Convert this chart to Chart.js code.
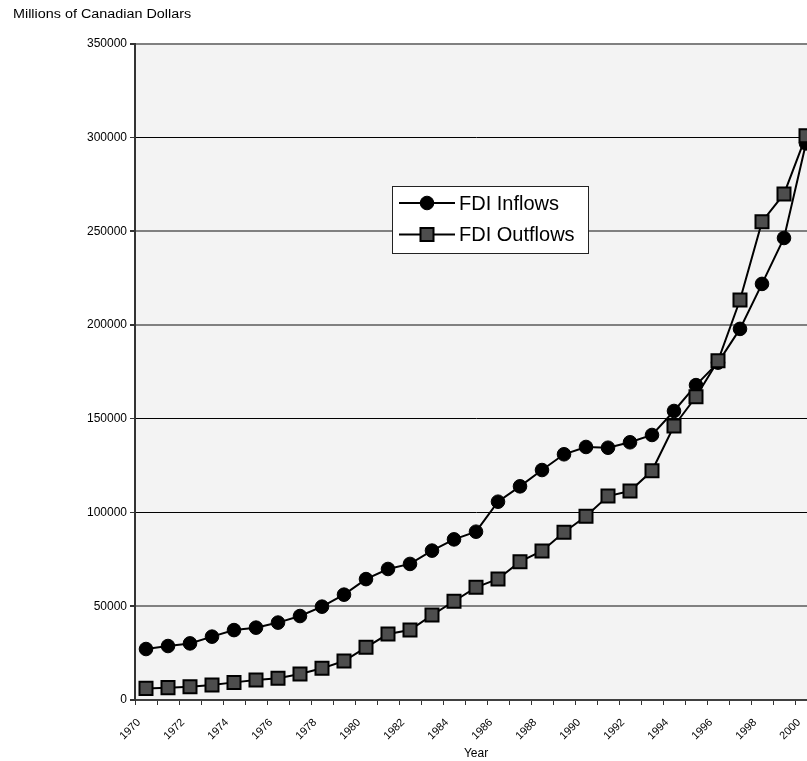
<!DOCTYPE html>
<html>
<head>
<meta charset="utf-8">
<title>FDI Inflows and Outflows</title>
<script src="https://cdn.jsdelivr.net/npm/chart.js"></script>
<style>
  body{margin:0;background:#fff;overflow:hidden;font-family:Arial,"Liberation Sans",sans-serif;}
  #wrap{position:relative;width:830px;height:761px;}
  #unit{position:absolute;left:13px;top:7px;font-size:12.5px;color:#000;transform:scaleX(1.15);transform-origin:left top;white-space:nowrap;}
</style>
</head>
<body>
<div id="wrap">
  <div id="unit">Millions of Canadian Dollars</div>
  <canvas id="chart" width="830" height="761"></canvas>
</div>

<script>

// =====================
// DATA
// =====================

const years = [
  "1970","1971","1972","1973","1974","1975","1976","1977","1978","1979",
  "1980","1981","1982","1983","1984","1985","1986","1987","1988","1989",
  "1990","1991","1992","1993","1994","1995","1996","1997","1998","1999","2000"
];

const inflows = [
  27200,28800,30200,33800,37300,38600,41300,44800,49800,56200,
  64500,69900,72600,79700,85700,89800,105800,114000,122700,131100,
  135000,134600,137500,141400,154200,168000,180000,198000,222000,246500,297000
];

const outflows = [
  6200,6600,7100,8000,9400,10700,11600,13900,16900,20800,
  28100,35200,37300,45300,52700,60100,64600,73800,79500,89500,
  98000,108800,111500,122300,146200,161800,181000,213400,255200,270000,301000
];

const seriesNames = ["FDI Inflows","FDI Outflows"];

const yMax = 350000;
const yStep = 50000;

// gridlines come out black or grey in the original
const blackGrid = [100000,150000,300000];


// =====================
// PLUGINS
// =====================

// grey plot background
const plotBg = {
  id:"plotBg",
  beforeDraw(chart){
    const a = chart.chartArea, ctx = chart.ctx;
    ctx.save();
    ctx.fillStyle = "#f3f3f3";
    ctx.fillRect(a.left, a.top, a.right-a.left, a.bottom-a.top);
    ctx.restore();
  }
};

// boxed legend inside the plot, line + marker per series
const boxLegend = {
  id:"boxLegend",
  afterDraw(chart){
    const a = chart.chartArea, ctx = chart.ctx;
    const x = a.left + 257, y = a.top + 142, w = 196, h = 67;

    ctx.save();
    ctx.fillStyle = "#fff";
    ctx.fillRect(x, y, w, h);
    ctx.strokeStyle = "#222";
    ctx.lineWidth = 1;
    ctx.strokeRect(x+0.5, y+0.5, w, h);

    chart.data.datasets.forEach((ds,i)=>{
      const cy = y + 17 + i*31.5;
      const lx1 = x + 7, lx2 = x + 63, mx = (lx1+lx2)/2;

      ctx.strokeStyle = ds.borderColor;
      ctx.lineWidth = 2;
      ctx.beginPath();
      ctx.moveTo(lx1, cy);
      ctx.lineTo(lx2, cy);
      ctx.stroke();

      ctx.fillStyle = ds.pointBackgroundColor;
      ctx.strokeStyle = ds.pointBorderColor;
      ctx.lineWidth = ds.pointBorderWidth;
      ctx.beginPath();
      if(ds.pointStyle === "rect"){
        const s = ds.pointRadius / Math.SQRT2;
        ctx.rect(mx-s, cy-s, 2*s, 2*s);
      } else {
        ctx.arc(mx, cy, ds.pointRadius, 0, Math.PI*2);
      }
      ctx.fill();
      ctx.stroke();

      ctx.fillStyle = "#000";
      ctx.font = "20px Arial, 'Liberation Sans', sans-serif";
      ctx.textBaseline = "middle";
      ctx.textAlign = "left";
      ctx.fillText(ds.label, x + 67, cy + 1);
    });
    ctx.restore();
  }
};


// =====================
// CHART
// =====================

new Chart(document.getElementById("chart"), {
  type:"line",
  data:{
    labels:years,
    datasets:[
      {
        label:seriesNames[0],
        data:inflows,
        order:1,
        borderColor:"#000",
        borderWidth:2,
        pointStyle:"circle",
        pointRadius:6.8,
        pointBackgroundColor:"#000",
        pointBorderColor:"#000",
        pointBorderWidth:1,
        tension:0
      },
      {
        label:seriesNames[1],
        data:outflows,
        order:0,
        borderColor:"#000",
        borderWidth:2,
        pointStyle:"rect",
        pointRadius:9.2,
        pointBackgroundColor:"#4d4d4d",
        pointBorderColor:"#000",
        pointBorderWidth:2,
        tension:0
      }
    ]
  },
  options:{
    responsive:false,
    animation:false,
    layout:{padding:{top:44,right:13,bottom:0,left:0}},
    plugins:{
      legend:{display:false},
      title:{display:false},
      tooltip:{enabled:false}
    },
    scales:{
      x:{
        offset:true,
        grid:{
          offset:true,
          drawOnChartArea:false,
          drawTicks:true,
          tickLength:5,
          tickColor:"#333"
        },
        border:{color:"#404040",width:2},
        ticks:{
          autoSkip:false,
          minRotation:45,
          maxRotation:45,
          padding:11,
          labelOffset:-7,
          color:"#000",
          font:{family:"Arial, 'Liberation Sans', sans-serif",size:11},
          callback:(v,i)=> i%2===0 ? years[i] : ""
        },
        title:{
          display:true,
          text:"Year",
          color:"#000",
          padding:{top:0,bottom:0},
          font:{family:"Arial, 'Liberation Sans', sans-serif",size:12}
        },
        afterFit(scale){ scale.height = 61; }
      },
      y:{
        min:0,
        max:yMax,
        grid:{
          color:ctx=> blackGrid.includes(ctx.tick && ctx.tick.value) ? "#000" : "#808080",
          lineWidth:ctx=> blackGrid.includes(ctx.tick && ctx.tick.value) ? 1 : 2,
          tickLength:5,
          tickColor:"#333"
        },
        border:{color:"#333",width:2},
        ticks:{
          stepSize:yStep,
          padding:3,
          color:"#000",
          font:{family:"Arial, 'Liberation Sans', sans-serif",size:12},
          callback:v=> String(v)
        },
        afterFit(scale){ scale.width = 135; }
      }
    }
  },
  plugins:[plotBg, boxLegend]
});

</script>
</body>
</html>
